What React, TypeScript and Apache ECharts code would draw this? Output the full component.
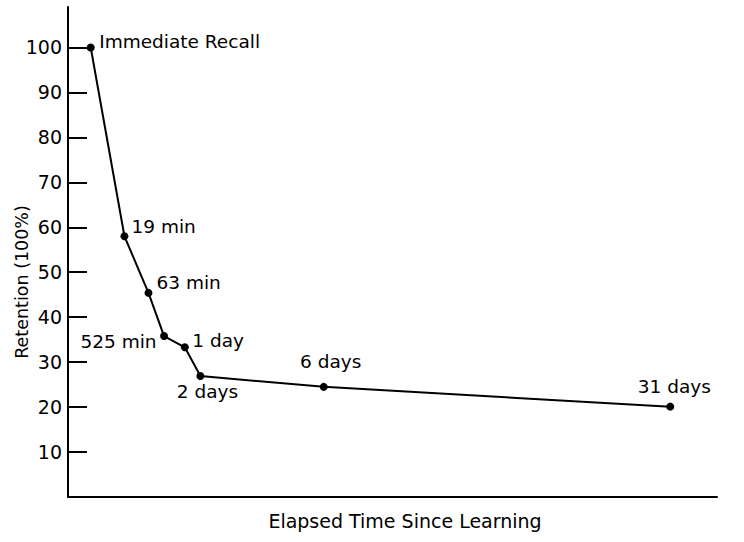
import { useEffect, useRef } from 'react';
import * as echarts from 'echarts';

// point labels along the curve, their plotted position on the (unlabelled) time axis, and retention %
const pointLabels = ['Immediate Recall', '19 min', '63 min', '525 min', '1 day', '2 days', '6 days', '31 days'];
const elapsedPos = [3.5, 8.7, 12.4, 14.8, 18.0, 20.4, 39.4, 92.8];
const retention = [100, 58.0, 45.4, 35.8, 33.3, 26.9, 24.5, 20.1];
const yTicks = [10, 20, 30, 40, 50, 60, 70, 80, 90, 100];

// where each point's text sits relative to its dot
const labelPlacement: Array<{ position: string; distance: number; offset: [number, number] }> = [
  { position: 'right', distance: 4.5, offset: [0, -6] },
  { position: 'right', distance: 3, offset: [0, -10] },
  { position: 'right', distance: 4, offset: [0, -10] },
  { position: 'left', distance: 3.5, offset: [0, 5] },
  { position: 'right', distance: 3.5, offset: [0, -7] },
  { position: 'bottom', distance: 2, offset: [7, 0] },
  { position: 'top', distance: 12, offset: [7, 0] },
  { position: 'top', distance: 7, offset: [4, 0] },
];

const FONT = '"DejaVu Sans", Verdana, sans-serif';

export default function App() {
  const ref = useRef<HTMLDivElement | null>(null);

  useEffect(() => {
    if (!ref.current) return;
    const chart = echarts.init(ref.current, undefined, { renderer: 'svg' });

    chart.setOption({
      animation: false,
      backgroundColor: '#fff',
      grid: { left: 68, right: 27, top: 7, bottom: 45 },
      xAxis: {
        type: 'value',
        min: 0,
        max: 100,
        axisLine: { show: true, lineStyle: { color: '#000', width: 2 } },
        axisTick: { show: false },
        axisLabel: { show: false },
        splitLine: { show: false },
      },
      yAxis: {
        type: 'value',
        min: 0,
        max: 109,
        axisLine: { show: true, lineStyle: { color: '#000', width: 2 } },
        axisTick: {
          show: true,
          inside: true,
          length: 19,
          customValues: yTicks,
          lineStyle: { color: '#000', width: 2 },
        },
        axisLabel: {
          customValues: yTicks,
          color: '#000',
          fontSize: 19,
          fontFamily: FONT,
          margin: 6,
        },
        splitLine: { show: false },
      },
      graphic: [
        {
          type: 'text',
          x: 405,
          y: 521,
          style: {
            text: 'Elapsed Time Since Learning',
            fill: '#000',
            font: `19px ${FONT}`,
            align: 'center',
            verticalAlign: 'middle',
          },
        },
        {
          type: 'text',
          x: 22,
          y: 282,
          rotation: Math.PI / 2,
          style: {
            text: 'Retention (100%)',
            fill: '#000',
            font: `17.5px ${FONT}`,
            align: 'center',
            verticalAlign: 'middle',
          },
        },
      ],
      series: [
        {
          type: 'line',
          data: elapsedPos.map((x, i) => ({
            value: [x, retention[i]],
            name: pointLabels[i],
            label: {
              show: true,
              formatter: pointLabels[i],
              position: labelPlacement[i].position,
              distance: labelPlacement[i].distance,
              offset: labelPlacement[i].offset,
            },
          })),
          symbol: 'circle',
          symbolSize: 8,
          itemStyle: { color: '#000' },
          lineStyle: { color: '#000', width: 2 },
          label: {
            color: '#000',
            fontSize: 18.5,
            fontFamily: FONT,
          },
        },
      ],
    });

    return () => chart.dispose();
  }, []);

  return (
    <div
      ref={ref}
      style={{ position: 'fixed', left: 0, top: 0, width: 744, height: 542 }}
    />
  );
}
